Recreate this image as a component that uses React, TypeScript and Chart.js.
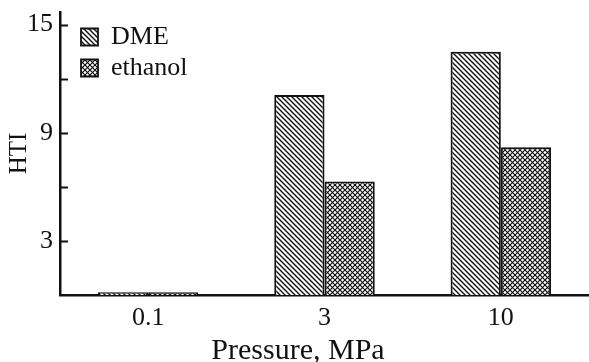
import React, { useEffect, useRef } from "react";
import { Chart, registerables } from "chart.js";

Chart.register(...registerables);

const categories = ["0.1", "3", "10"];
const dmeValues = [0.15, 11.1, 13.5];
const ethanolValues = [0.15, 6.3, 8.2];
const yTickValues = [3, 6, 9, 12, 15];
const yTickLabels = ["3", "", "9", "", "15"];
const xTitle = "Pressure, MPa";
const yTitle = "HTI";
const seriesNames = ["DME", "ethanol"];
const FONT = "\"Liberation Serif\", \"Times New Roman\", serif";
const INK = "#111";

function makePattern(kind: "diag" | "cross"): CanvasPattern | string {
  const n = 5;
  const c = document.createElement("canvas");
  c.width = n;
  c.height = n;
  const g = c.getContext("2d");
  if (!g) return "#fff";
  g.fillStyle = "#fff";
  g.fillRect(0, 0, n, n);
  g.strokeStyle = "#111";
  g.lineWidth = kind === "diag" ? 1.4 : 1.2;
  const drawDiag = () => {
    g.beginPath();
    g.moveTo(-1, -1);
    g.lineTo(n + 1, n + 1);
    g.moveTo(-1, n - 1);
    g.lineTo(1, n + 1);
    g.moveTo(n - 1, -1);
    g.lineTo(n + 1, 1);
    g.stroke();
  };
  const drawAnti = () => {
    g.beginPath();
    g.moveTo(n + 1, -1);
    g.lineTo(-1, n + 1);
    g.moveTo(1, -1);
    g.lineTo(-1, 1);
    g.moveTo(n + 1, n - 1);
    g.lineTo(n - 1, n + 1);
    g.stroke();
  };
  drawDiag();
  if (kind === "cross") drawAnti();
  const p = g.createPattern(c, "repeat");
  return p || "#fff";
}

export default function App() {
  const ref = useRef<HTMLCanvasElement>(null);
  useEffect(() => {
    document.body.style.margin = "0";
    const canvas = ref.current;
    if (!canvas) return;
    const ctx = canvas.getContext("2d");
    if (!ctx) return;
    const dmeFill = makePattern("diag");
    const ethFill = makePattern("cross");

    const overlay = {
      id: "overlay",
      afterLayout(chart: any) {
        const lg = chart.legend;
        if (lg) {
          const w = lg.width;
          const h = lg.height;
          lg.left = 76;
          lg.top = 19;
          lg.right = lg.left + w;
          lg.bottom = lg.top + h;
        }
      },
      afterDraw(chart: any) {
        const c = chart.ctx;
        const y = chart.scales.y;
        const area = chart.chartArea;
        c.save();
        c.strokeStyle = INK;
        c.lineWidth = 2;
        yTickValues.forEach((v) => {
          const py = Math.round(y.getPixelForValue(v)) + 0.5;
          c.beginPath();
          c.moveTo(area.left, py);
          c.lineTo(area.left + 8, py);
          c.stroke();
        });
        c.font = "30px " + FONT;
        c.textBaseline = "alphabetic";
        c.textAlign = "center";
        c.fillStyle = INK;
        c.fillText(xTitle, 298, 359);
        c.restore();
      },
    };

    const chart = new Chart(ctx, {
      type: "bar",
      data: {
        labels: categories,
        datasets: [
          {
            label: seriesNames[0],
            data: dmeValues,
            backgroundColor: dmeFill as any,
            borderColor: INK,
            borderWidth: 2,
            barPercentage: 1,
            categoryPercentage: 0.57,
          },
          {
            label: seriesNames[1],
            data: ethanolValues,
            backgroundColor: ethFill as any,
            borderColor: INK,
            borderWidth: 2,
            barPercentage: 1,
            categoryPercentage: 0.57,
          },
        ],
      },
      options: {
        animation: false,
        responsive: false,
        maintainAspectRatio: false,
        layout: { padding: { top: 12, right: 0, left: 0, bottom: 0 } },
        plugins: {
          legend: {
            display: true,
            position: "chartArea" as any,
            align: "start",
            labels: {
              boxWidth: 17,
              boxHeight: 17,
              padding: 5,
              color: INK,
              font: { family: FONT, size: 26 },
              generateLabels: (ch: any) =>
                ch.data.datasets.map((d: any, i: number) => ({
                  text: d.label,
                  fillStyle: d.backgroundColor,
                  strokeStyle: INK,
                  lineWidth: 1.8,
                  hidden: false,
                  datasetIndex: i,
                  fontColor: INK,
                })),
            },
          },
          tooltip: { enabled: false },
        },
        scales: {
          x: {
            grid: { display: false, drawTicks: false },
            border: { display: true, color: INK, width: 2.5 },
            ticks: {
              color: INK,
              font: { family: FONT, size: 26 },
              padding: 8,
            },
            afterFit: (s: any) => {
              s.height = 67;
              s.paddingLeft = 0;
              s.paddingRight = 0;
            },
          },
          y: {
            min: 0,
            max: 15.7,
            grid: { display: false, drawTicks: false },
            border: { display: true, color: INK, width: 2.5 },
            afterBuildTicks: (s: any) => {
              s.ticks = yTickValues.map((v) => ({ value: v }));
            },
            ticks: {
              color: INK,
              font: { family: FONT, size: 26 },
              padding: 7,
              callback: (v: any) => {
                const i = yTickValues.indexOf(Number(v));
                return i >= 0 ? yTickLabels[i] : "";
              },
            },
            title: {
              display: true,
              text: yTitle,
              color: INK,
              font: { family: FONT, size: 25 },
              padding: { top: 4, bottom: 0 },
            },
            afterFit: (s: any) => {
              s.width = 60;
              s.paddingTop = 0;
              s.paddingBottom = 0;
            },
          },
        },
      },
      plugins: [overlay],
    });
    return () => chart.destroy();
  }, []);

  return (
    <div style={{ width: 589, height: 362 }}>
      <canvas ref={ref} width={589} height={362} style={{ display: "block" }} />
    </div>
  );
}
